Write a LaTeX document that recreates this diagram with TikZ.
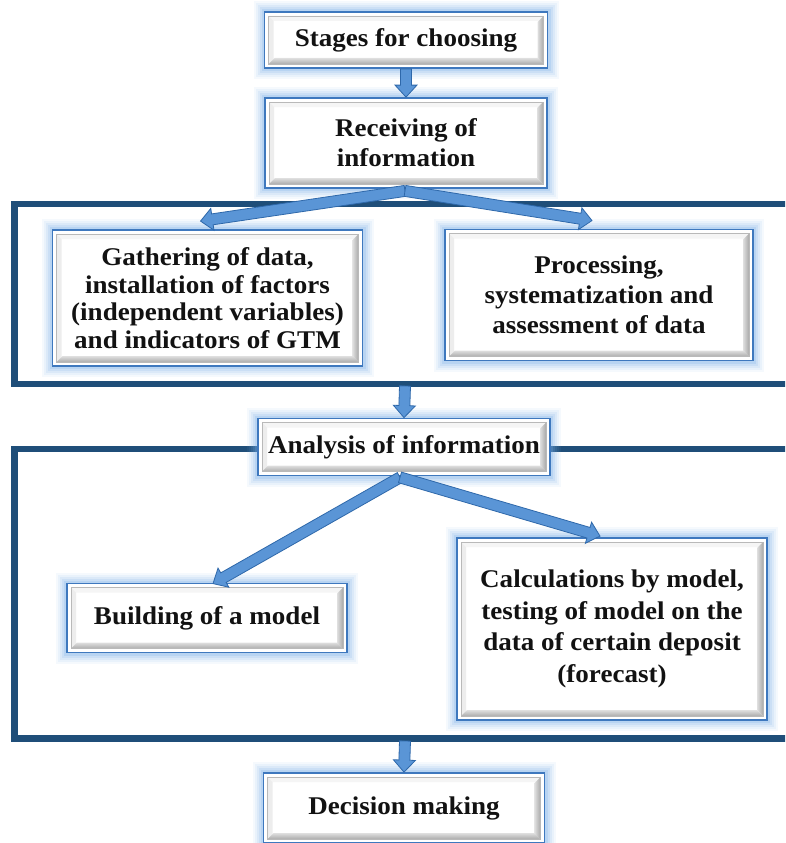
\documentclass[tikz,border=0pt]{standalone}
\usepackage{fontspec}
\setmainfont{Liberation Serif}[FakeStretch=1.06]
\usetikzlibrary{calc}
\definecolor{framec}{HTML}{1F4E79}
\definecolor{bordc}{HTML}{3E78BE}
\definecolor{glowc}{HTML}{78B0EA}
\definecolor{arrfill}{HTML}{5A95D6}
\definecolor{arrline}{HTML}{2E68AA}
\definecolor{txtc}{HTML}{121212}

\tikzset{
  stagebox/.style={
    rectangle, inner sep=0pt, align=center, text=txtc,
    font=\fontsize{25.5}{27.5}\selectfont\bfseries,
    preaction={draw=glowc, line width=22pt, opacity=0.07},
    preaction={draw=glowc, line width=18pt, opacity=0.09},
    preaction={draw=glowc, line width=14pt, opacity=0.12},
    preaction={draw=glowc, line width=10pt, opacity=0.16},
    preaction={draw=glowc, line width=6pt, opacity=0.22},
    draw=bordc, line width=1.8pt, fill=white,
    path picture={
      \path (path picture bounding box.south west) ++(4pt,4pt) coordinate (bsw);
      \path (path picture bounding box.north east) ++(-4pt,-4pt) coordinate (bne);
      \fill[gray!8] (bne) -- (bne -| bsw) -- ++(5pt,-5pt) -- ($(bne)+(-5pt,-5pt)$) -- cycle;
      \fill[gray!14] (bne -| bsw) -- (bsw) -- ++(5pt,5pt) -- ($(bne -| bsw)+(5pt,-5pt)$) -- cycle;
      \shade[left color=gray!25, right color=gray!68] (bsw -| bne) -- (bne) -- ++(-6pt,-6pt) -- ($(bsw -| bne)+(-6pt,6pt)$) -- cycle;
      \shade[top color=gray!25, bottom color=gray!65] (bsw) -- (bsw -| bne) -- ++(-6pt,6pt) -- ($(bsw)+(6pt,6pt)$) -- cycle;
      \draw[gray!55, line width=0.5pt] (bsw) rectangle (bne);
    }
  },
  frameline/.style={draw=framec, line width=6.5pt},
  arrowbody/.style={fill=arrfill, draw=arrline, line width=0.8pt, line join=miter},
}

\newcommand\blockarrow[2]{%
  \path let \p1=(#1), \p2=(#2) in
    \pgfextra{%
      \pgfmathsetmacro\barang{atan2(\y2-\y1,\x2-\x1)}%
      \pgfmathsetmacro\barlen{veclen(\x2-\x1,\y2-\y1)}%
      \xdef\bang{\barang}\xdef\blen{\barlen}%
      \xdef\bxx{\x1}\xdef\byy{\y1}};
  \begin{scope}[shift={(\bxx,\byy)}, rotate=\bang]
    \path[arrowbody] (0pt,-5.5pt) -- (\blen pt-12pt,-5.5pt) -- (\blen pt-12pt,-11pt)
      -- (\blen pt,0pt) -- (\blen pt-12pt,11pt) -- (\blen pt-12pt,5.5pt) -- (0pt,5.5pt) -- cycle;
  \end{scope}
}

\begin{document}
\begin{tikzpicture}[x=1pt,y=-1pt]
  \useasboundingbox (0,0) rectangle (785,843);
  \clip (0,0) rectangle (785,843);
  \fill[white] (0,0) rectangle (785,843);

  % frames
  \draw[frameline] (14.5,204) rectangle (815,384);
  \draw[frameline] (14.5,449) rectangle (815,738.5);

  % nodes
  \node[stagebox, minimum width=283pt, minimum height=56pt] (stages) at (406,40) {Stages for choosing};
  \node[stagebox, minimum width=282pt, minimum height=90pt, font=\fontsize{25.5}{30}\selectfont\bfseries] (recv) at (406,143) {Receiving of\\information};
  \node[stagebox, minimum width=310pt, minimum height=136pt] (gath) at (207.5,298) {Gathering of data,\\installation of factors\\(independent variables)\\and indicators of GTM};
  \node[stagebox, minimum width=308pt, minimum height=131pt, font=\fontsize{25.5}{30}\selectfont\bfseries] (proc) at (599,295) {Processing,\\systematization and\\assessment of data};
  \node[stagebox, minimum width=292pt, minimum height=57pt] (anal) at (404,447) {Analysis of information};
  \node[stagebox, minimum width=280pt, minimum height=69pt] (build) at (207,618) {Building of a model};
  \node[stagebox, minimum width=310pt, minimum height=182pt, font=\fontsize{25.5}{31.5}\selectfont\bfseries] (calcm) at (612,629) {Calculations by model,\\testing of model on the\\data of certain deposit\\(forecast)};
  \node[stagebox, minimum width=281pt, minimum height=70pt] (dec) at (404,808) {Decision making};

  % free ends on the frames
  \coordinate (f1b) at (405,386);
  \coordinate (f2b) at (405,741);

  % arrows
  \blockarrow{stages.south}{recv.north}
  \blockarrow{$(recv.south)+(-1,2)$}{$(gath.north)+(-7,-8)$}
  \blockarrow{$(recv.south)+(-1,2)$}{$(proc.north)+(-7,-8)$}
  \blockarrow{f1b}{anal.north}
  \blockarrow{$(anal.south)+(-4,1)$}{$(build.north)+(6,1)$}
  \blockarrow{$(anal.south)+(-4,1)$}{$(calcm.north)+(-12,-1)$}
  \blockarrow{f2b}{dec.north}
\end{tikzpicture}
\end{document}
